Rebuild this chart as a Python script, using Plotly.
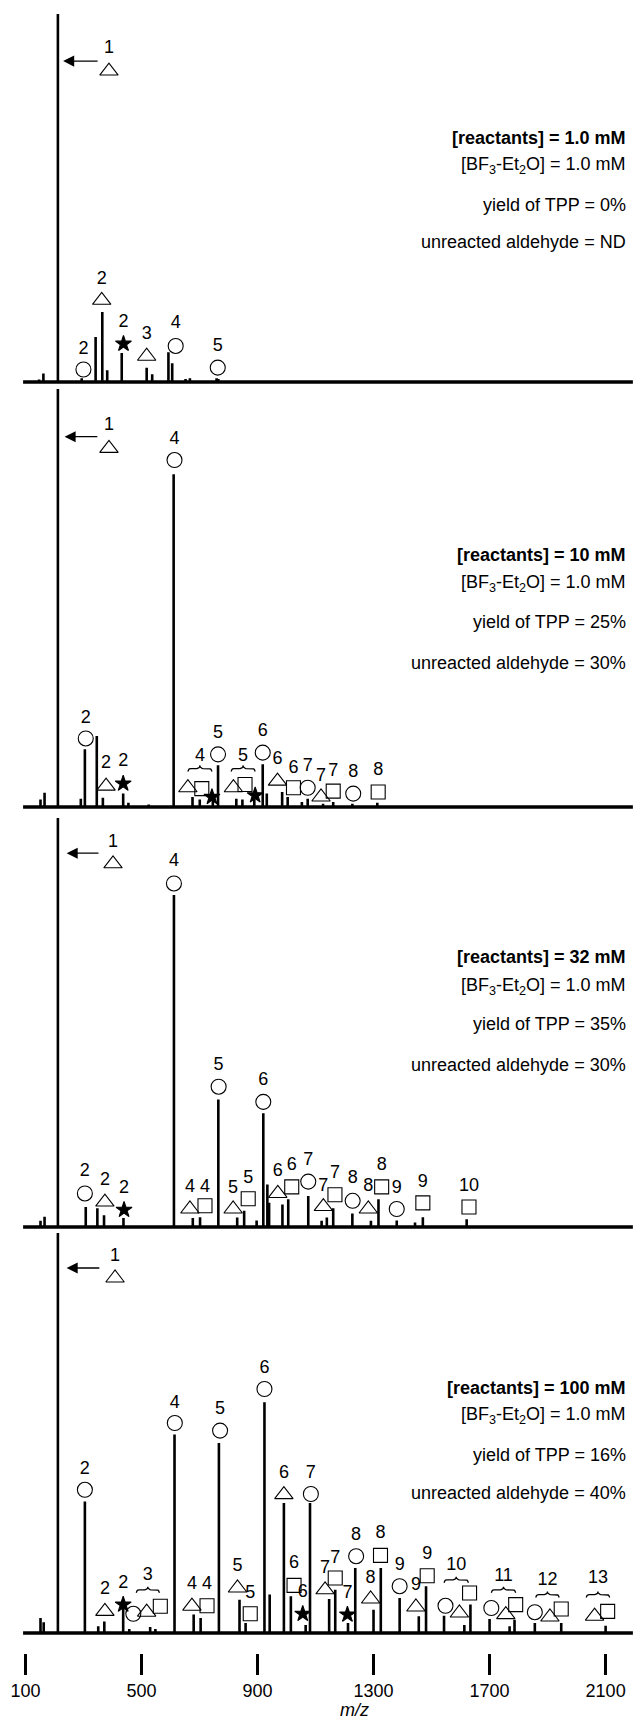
import numpy as np
import plotly.graph_objects as go

# ---------------- data (m/z, relative intensity in % of panel full scale) ----------------
P1_MZ = [147, 162, 212, 294, 342, 365, 382, 432, 518, 537, 593, 606, 652, 667, 759, 765]
P1_INT = [0.7, 2.3, 100, 1.0, 12.2, 19.0, 3.2, 7.9, 3.9, 2.1, 8.1, 5.1, 0.8, 1.0, 1.0, 0.8]

P2_MZ = [152, 166, 212, 291, 305, 346, 367, 437, 455, 525, 611, 676, 701, 746, 764, 827,
         848, 889, 918, 932, 985, 1004, 1053, 1073, 1126, 1161, 1227, 1313]
P2_INT = [1.8, 3.4, 100, 2.0, 13.8, 17.0, 2.2, 3.2, 1.0, 0.6, 79.6, 2.4, 1.8, 3.2, 10.0, 2.0,
          1.8, 2.8, 10.2, 3.2, 3.6, 2.4, 1.2, 2.0, 0.8, 1.2, 0.8, 1.0]

P3_MZ = [152, 166, 212, 308, 348, 371, 438, 612, 677, 702, 765, 830, 854, 897, 920, 934, 940,
         986, 1006, 1075, 1121, 1139, 1161, 1227, 1291, 1317, 1380, 1443, 1470, 1621]
P3_INT = [1.5, 2.5, 100, 4.9, 4.6, 2.9, 2.2, 81.2, 2.2, 2.4, 31.2, 2.3, 4.0, 1.6, 27.8, 10.4, 5.9,
          5.5, 6.8, 7.6, 1.5, 2.3, 4.6, 3.3, 1.5, 6.8, 1.6, 1.1, 2.4, 1.9]

P4_MZ = [152, 163, 212, 305, 351, 372, 437, 458, 530, 548, 614, 680, 704, 767, 838, 859, 924,
         942, 991, 1015, 1066, 1081, 1147, 1168, 1212, 1237, 1300, 1325, 1390, 1456, 1481, 1543,
         1613, 1634, 1700, 1769, 1786, 1856, 1947, 2100]
P4_INT = [3.75, 2.7, 100, 32.9, 1.7, 2.9, 7.5, 1.0, 1.5, 1.0, 49.6, 4.6, 3.75, 47.5, 8.3, 2.5, 57.7,
          9.6, 32.5, 9.2, 2.0, 32.5, 8.5, 10.8, 2.5, 16.25, 5.8, 16.25, 8.75, 4.2, 11.7, 4.3,
          2.0, 7.1, 3.5, 1.7, 3.3, 2.5, 2.5, 1.8]

# peak labels: (m/z, number, symbol, number height, symbol height)
P1_LABELS = [(300, "2", "o", 8.9, 3.4), (363, "2", "t", 27.8, 22.2), (438, "2", "*", 16.3, 10.4),
             (518, "3", "t", 13.0, 7.0), (618, "4", "o", 15.9, 9.8), (763, "5", "o", 9.7, 3.9),
             (388, "1", "t", 90.5, 84.5)]
P2_LABELS = [(308, "2", "o", 21.2, 16.4), (378, "2", "t", 10.4, 5.0), (437, "2", "*", 11.0, 5.6),
             (614, "4", "o", 88.0, 83.0), (660, "", "t", 0, 4.6), (708, "", "s", 0, 4.4),
             (743, "", "*", 0, 2.4), (764, "5", "o", 17.6, 12.6), (817, "", "t", 0, 4.6),
             (857, "", "s", 0, 5.4), (892, "", "*", 0, 2.8), (918, "6", "o", 18.0, 13.0),
             (969, "6", "t", 11.4, 6.2), (1024, "6", "s", 9.2, 4.6), (1073, "7", "o", 9.6, 4.6),
             (1119, "7", "t", 7.2, 2.4), (1161, "7", "s", 8.6, 3.8), (1230, "8", "o", 8.2, 3.2),
             (1316, "8", "s", 8.8, 3.6), (388, "1", "t", 91.2, 85.8)]
P3_LABELS = [(305, "2", "o", 13.5, 8.2), (374, "2", "t", 11.3, 6.1), (440, "2", "*", 9.4, 4.2),
             (612, "4", "o", 89.3, 84.0), (667, "4", "t", 9.6, 4.4), (719, "4", "s", 9.7, 5.2),
             (766, "5", "o", 39.4, 34.3), (816, "5", "t", 9.3, 4.4), (868, "5", "s", 11.8, 6.9),
             (920, "6", "o", 35.7, 30.6), (970, "6", "t", 13.5, 8.2), (1018, "6", "s", 15.0, 9.8),
             (1075, "7", "o", 16.2, 11.1), (1127, "7", "t", 10.0, 5.0), (1167, "7", "s", 13.0, 7.9),
             (1228, "8", "o", 11.8, 6.4), (1282, "8", "t", 9.8, 4.4), (1328, "8", "s", 15.0, 9.8),
             (1380, "9", "o", 9.5, 4.4), (1470, "9", "s", 11.0, 5.9), (1629, "10", "s", 10.0, 4.9),
             (402, "1", "t", 94.0, 88.8)]
P4_LABELS = [(305, "2", "o", 41.0, 35.8), (374, "2", "t", 11.0, 5.4), (437, "2", "*", 12.5, 7.1),
             (472, "", "o", 0, 4.8), (518, "", "t", 0, 5.2), (565, "", "s", 0, 6.7),
             (615, "4", "o", 57.5, 52.5), (674, "4", "t", 12.1, 6.7), (726, "4", "s", 12.1, 6.8),
             (771, "5", "o", 55.8, 50.6), (831, "5", "t", 16.7, 11.25), (875, "5", "s", 10.0, 4.8),
             (924, "6", "o", 66.25, 61.0), (991, "6", "t", 40.0, 34.6), (1026, "6", "s", 17.3, 11.9),
             (1056, "6", "*", 10.2, 4.8), (1084, "7", "o", 40.0, 34.75), (1133, "7", "t", 16.25, 10.8),
             (1168, "7", "s", 18.75, 13.75), (1210, "7", "*", 10.0, 4.6), (1240, "8", "o", 24.3, 19.2),
             (1290, "8", "t", 13.75, 8.5), (1324, "8", "s", 25.0, 19.4), (1390, "9", "o", 16.8, 11.7),
             (1446, "9", "t", 11.8, 6.5), (1485, "9", "s", 19.6, 14.3), (1548, "", "o", 0, 6.8),
             (1596, "", "t", 0, 5.0), (1631, "", "s", 0, 10.0), (1706, "", "o", 0, 6.25),
             (1756, "", "t", 0, 4.6), (1790, "", "s", 0, 7.1), (1856, "", "o", 0, 5.2),
             (1908, "", "t", 0, 4.0), (1947, "", "s", 0, 6.0), (2062, "", "t", 0, 4.2),
             (2107, "", "s", 0, 5.4), (409, "1", "t", 94.2, 88.75)]

# grouped labels with braces: (start m/z, end m/z, number, brace height, number height)
P2_BRACES = [(660, 743, "4", 9.2, 12.2), (809, 892, "5", 9.2, 12.2)]
P4_BRACES = [(482, 562, "3", 10.8, 14.3), (1543, 1627, "10", 13.3, 16.8),
             (1706, 1790, "11", 10.8, 14.2), (1859, 1940, "12", 9.6, 13.2),
             (2033, 2114, "13", 9.6, 13.75)]

# arrow toward the truncated m/z 212 peak: (tip m/z, tail m/z, height)
ARROWS = [(230, 354, 87.2), (235, 353, 88.6), (242, 357, 91.4), (242, 360, 91.25)]

CONDITIONS = [
    ("1.0 mM", "1.0 mM", "0%", "ND"),
    ("10 mM", "1.0 mM", "25%", "30%"),
    ("32 mM", "1.0 mM", "35%", "30%"),
    ("100 mM", "1.0 mM", "16%", "40%"),
]

X_TICKS = [100, 500, 900, 1300, 1700, 2100]

# ---------------- layout geometry ----------------
FIG_W, FIG_H = 633, 1722
X_RANGE = [12.4, 2194.4]
X_START, X_END = 92, 2194
PANELS = [(14, 382, 4), (389, 807, 4), (818, 1227, 4), (1233, 1633, 20)]
TEXT_PX = [(138, 166, 205, 242), (555, 583, 622, 663), (957, 987, 1024, 1065),
           (1388, 1415, 1455, 1493)]
PX_PER_MZ = 0.2901
FONT = "Liberation Sans, Arial, Helvetica, sans-serif"

SPECTRA = [(P1_MZ, P1_INT), (P2_MZ, P2_INT), (P3_MZ, P3_INT), (P4_MZ, P4_INT)]
LABELS = [P1_LABELS, P2_LABELS, P3_LABELS, P4_LABELS]
BRACES = [[], P2_BRACES, [], P4_BRACES]
SYMBOLS = {"o": ("circle-open", 15), "t": ("triangle-up-open", 16),
           "s": ("square-open", 14), "*": ("star", 12)}


def brace_path(x0, x1, yb, ppx, r_px=3.0):
    """Curly over-brace built from quarter arcs (pixel radius r_px)."""
    rx = r_px / PX_PER_MZ
    ry = r_px * ppx
    xc = 0.5 * (x0 + x1)
    t = np.linspace(0, np.pi / 2, 7)
    xs, ys = [], []
    # left end: from (x0, yb-ry) curving up to (x0+rx, yb)
    xs += list(x0 + rx - rx * np.cos(t)); ys += list(yb - ry + ry * np.sin(t))
    # middle-left: from (xc-rx, yb) curving up to (xc, yb+ry)
    xs += list(xc - rx + rx * np.sin(t)); ys += list(yb + ry - ry * np.cos(t))
    # middle-right: from (xc, yb+ry) down to (xc+rx, yb)
    xs += list(xc + rx - rx * np.cos(t)); ys += list(yb + ry - ry * np.sin(t))
    # right end: from (x1-rx, yb) down to (x1, yb-ry)
    xs += list(x1 - rx + rx * np.sin(t)); ys += list(yb - ry + ry * np.cos(t))
    return xs, ys


fig = go.Figure()
layout = dict(width=FIG_W, height=FIG_H, margin=dict(l=0, r=0, t=0, b=0),
              plot_bgcolor="white", paper_bgcolor="white", showlegend=False,
              font=dict(family=FONT, color="black"))
annotations = []

for i, (top, base, pad) in enumerate(PANELS):
    n = i + 1
    sfx = "" if n == 1 else str(n)
    xa, ya = "x" + sfx, "y" + sfx
    ppx = 100.0 / (base - top)  # % per pixel
    xaxis = dict(domain=[0, 1], range=X_RANGE, anchor=ya, showgrid=False, zeroline=False,
                 showline=False, fixedrange=True)
    if n == 4:
        xaxis.update(tickmode="array", tickvals=X_TICKS, ticktext=[str(t) for t in X_TICKS],
                     ticks="outside", ticklen=21, tickwidth=3, tickcolor="black",
                     tickfont=dict(size=18, family=FONT, color="black"), showticklabels=True)
    else:
        xaxis.update(showticklabels=False, ticks="")
    layout["xaxis" + sfx] = xaxis
    layout["yaxis" + sfx] = dict(domain=[1 - (base + pad) / FIG_H, 1 - top / FIG_H],
                                 range=[-pad * ppx, 100], anchor=xa, visible=False,
                                 fixedrange=True)

    # baseline
    fig.add_trace(go.Scatter(x=[X_START, X_END], y=[0, 0], mode="lines",
                             line=dict(color="black", width=3.5), xaxis=xa, yaxis=ya,
                             hoverinfo="skip"))
    # peaks as sticks
    mz, inten = SPECTRA[i]
    xs, ys = [], []
    for m, h in zip(mz, inten):
        xs += [m, m, m, None]
        ys += [0, h, 0, None]
    fig.add_trace(go.Scatter(x=xs, y=ys, mode="lines", line=dict(color="black", width=2.6),
                             xaxis=xa, yaxis=ya, connectgaps=False))

    # labels: symbols
    labs = LABELS[i]
    for code, (sym, size) in SYMBOLS.items():
        sel = [l for l in labs if l[2] == code]
        if not sel:
            continue
        fig.add_trace(go.Scatter(
            x=[l[0] for l in sel], y=[l[4] for l in sel], mode="markers",
            marker=dict(symbol=sym, size=size, color="black",
                        line=dict(color="black", width=1.1)),
            xaxis=xa, yaxis=ya, cliponaxis=False))
    # labels: numbers
    nums = [l for l in labs if l[1]]
    nums_b = [(0.5 * (b[0] + b[1]), b[2], b[4]) for b in BRACES[i]]
    fig.add_trace(go.Scatter(
        x=[l[0] for l in nums] + [b[0] for b in nums_b],
        y=[l[3] for l in nums] + [b[2] for b in nums_b],
        text=[l[1] for l in nums] + [b[1] for b in nums_b],
        mode="text", textposition="middle center",
        textfont=dict(size=18, family=FONT, color="black"),
        xaxis=xa, yaxis=ya, cliponaxis=False))
    # braces
    for (x0, x1, _, yb, _) in BRACES[i]:
        bx, by = brace_path(x0, x1, yb, ppx)
        fig.add_trace(go.Scatter(x=bx, y=by, mode="lines",
                                 line=dict(color="black", width=1.3),
                                 xaxis=xa, yaxis=ya))
    # arrow
    tip, tail, ay = ARROWS[i]
    annotations.append(dict(x=tip, y=ay, ax=tail, ay=ay, xref=xa, yref=ya, axref=xa, ayref=ya,
                            text="", showarrow=True, arrowhead=2, arrowsize=1.7,
                            arrowwidth=1.3, arrowcolor="black"))
    # condition text block
    reac, bf3, yld, ald = CONDITIONS[i]
    lines = ["<b>[reactants] = %s</b>" % reac,
             "[BF<sub>3</sub>-Et<sub>2</sub>O] = %s" % bf3,
             "yield of TPP = %s" % yld,
             "unreacted aldehyde = %s" % ald]
    for txt, py in zip(lines, TEXT_PX[i]):
        annotations.append(dict(x=628 / FIG_W, y=1 - py / FIG_H, xref="paper", yref="paper",
                                xanchor="right", yanchor="middle", text=txt, showarrow=False,
                                font=dict(size=18, family=FONT, color="black")))

annotations.append(dict(x=354 / FIG_W, y=0.0, xref="paper", yref="paper",
                        xanchor="center", yanchor="bottom", text="<i>m/z</i>", showarrow=False,
                        font=dict(size=18, family=FONT, color="black")))
layout["annotations"] = annotations
fig.update_layout(**layout)
fig.write_html("out.html", config={"displayModeBar": False},
               post_script="document.body.style.margin='0px';"
                           "document.body.style.overflow='hidden';")
